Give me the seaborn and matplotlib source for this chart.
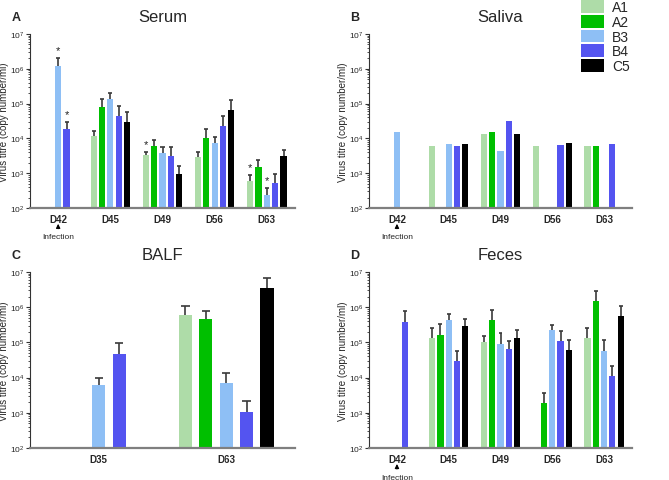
import numpy as np
import pandas as pd
import matplotlib
matplotlib.use("Agg")
import matplotlib.pyplot as plt
from matplotlib.patches import Patch
import seaborn as sns

nan = np.nan
groups = ["A1", "A2", "B3", "B4", "C5"]
colors = ["#aedca8", "#00bf00", "#8ebff5", "#5454f0", "#000000"]
days = ["D42", "D45", "D49", "D56", "D63"]
balf_days = ["D35", "D63"]

# Serum (mean, upper end of error bar)
serum_vals = {"A1": [nan, 1.17e4, 3.3e3, 2.9e3, 5.9e2],
              "A2": [nan, 7.8e4, 6.0e3, 1.0e4, 1.5e3],
              "B3": [1.2e6, 1.36e5, 3.9e3, 7.2e3, 2.3e2],
              "B4": [1.85e4, 4.5e4, 3.2e3, 2.2e4, 5.2e2],
              "C5": [nan, 3.0e4, 9.6e2, 6.7e4, 3.2e3]}
serum_err = {"A1": [nan, 1.65e4, 4.1e3, 4.2e3, 9.0e2],
             "A2": [nan, 1.36e5, 9.0e3, 1.9e4, 2.35e3],
             "B3": [2.1e6, 2.0e5, 5.8e3, 1.1e4, 3.7e2],
             "B4": [3.0e4, 8.6e4, 5.8e3, 4.4e4, 9.4e2],
             "C5": [nan, 5.8e4, 1.6e3, 1.3e5, 4.5e3]}
serum_stars = [("D42", "B3"), ("D42", "B4"), ("D49", "A1"), ("D63", "A1"), ("D63", "B3")]

# Saliva (no error bars)
saliva_vals = {"A1": [nan, 6.0e3, 1.3e4, 6.0e3, 6.0e3],
               "A2": [nan, nan, 1.5e4, nan, 6.0e3],
               "B3": [1.5e4, 6.9e3, 4.3e3, nan, nan],
               "B4": [nan, 6.0e3, 3.1e4, 6.6e3, 7.0e3],
               "C5": [nan, 6.8e3, 1.3e4, 7.4e3, nan]}

# BALF
balf_vals = {"A1": [nan, 6.1e5], "A2": [nan, 4.7e5], "B3": [6.0e3, 6.9e3],
             "B4": [4.7e4, 1.05e3], "C5": [nan, 3.5e6]}
balf_err = {"A1": [nan, 1.05e6], "A2": [nan, 7.6e5], "B3": [9.6e3, 1.35e4],
            "B4": [9.4e4, 2.1e3], "C5": [nan, 6.9e6]}

# Feces
feces_vals = {"A1": [nan, 1.3e5, 1.02e5, nan, 1.35e5],
              "A2": [nan, 1.65e5, 4.3e5, 1.85e3, 1.48e6],
              "B3": [nan, 4.3e5, 8.8e4, 2.2e5, 5.6e4],
              "B4": [3.9e5, 3.0e4, 6.6e4, 1.1e5, 1.1e4],
              "C5": [nan, 2.9e5, 1.3e5, 6.2e4, 5.6e5]}
feces_err = {"A1": [nan, 2.6e5, 1.5e5, nan, 2.6e5],
             "A2": [nan, 3.3e5, 8.2e5, 3.7e3, 2.9e6],
             "B3": [nan, 6.3e5, 1.8e5, 3.2e5, 1.17e5],
             "B4": [7.9e5, 5.8e4, 1.1e5, 2.1e5, 2.2e4],
             "C5": [nan, 4.6e5, 2.2e5, 1.2e5, 1.05e6]}

sns.set_style("white")
plt.rcParams["font.family"] = ["Liberation Sans", "DejaVu Sans"]

W, H = 669, 481
fig = plt.figure(figsize=(W / 100, H / 100), dpi=100)


def add_axes(l, r, t, b):
    return fig.add_axes([l / W, 1 - b / H, (r - l) / W, (b - t) / H])


def panel(ax, xdays, vals, errs, gap, title, letter, infection, stars=()):
    rows = []
    for g in groups:
        for d, v in zip(xdays, vals[g]):
            if not np.isnan(v):
                rows.append({"day": d, "group": g, "value": v})
    df = pd.DataFrame(rows)
    sns.barplot(data=df, x="day", y="value", hue="group", order=xdays,
                hue_order=groups, palette=colors, width=0.8, gap=gap,
                saturation=1, errorbar=None, linewidth=0, legend=False, ax=ax)
    ax.set_yscale("log")
    ax.set_ylim(1e2, 1e7)
    ax.set_xlim(-0.54, len(xdays) - 1 + 0.54)
    slot = 0.8 / len(groups)
    for p in ax.patches:
        h = p.get_height()
        if not h or h <= 0:
            continue
        xc = p.get_x() + p.get_width() / 2
        gi = int(round(xc))
        hi = int(round((xc - gi) / slot)) + 2
        g = groups[hi]
        d = xdays[gi]
        if errs is not None:
            top = errs[g][gi]
            if not np.isnan(top):
                ax.vlines(xc, h, top, color="#3a3a3a", lw=1.2, zorder=3)
                cw = p.get_width() * 0.32
                ax.hlines(top, xc - cw, xc + cw, color="#3a3a3a", lw=1.2, zorder=3)
        else:
            top = h
        if (d, g) in stars:
            ax.text(xc, top * 10 ** 0.22, "*", ha="center", va="center",
                    fontsize=8, color="#222222")
    ax.set_xlabel("")
    ax.set_ylabel("Virus titre (copy number/ml)", fontsize=7, labelpad=1)
    ax.set_title(title, fontsize=12, pad=9)
    for s in ["top", "right"]:
        ax.spines[s].set_visible(False)
    ax.spines["bottom"].set_color("#7f7f7f")
    ax.spines["bottom"].set_linewidth(1.6)
    ax.spines["left"].set_color("#333333")
    ax.spines["left"].set_linewidth(0.8)
    ax.tick_params(axis="x", length=0, pad=4, labelsize=7)
    for lab in ax.get_xticklabels():
        lab.set_fontweight("bold")
    ax.tick_params(axis="y", which="major", length=3, width=0.8, pad=1,
                   labelsize=6, left=True, color="#333333")
    ax.tick_params(axis="y", which="minor", length=1.6, width=0.6,
                   left=True, color="#333333")
    ax.text(-0.07, 1.095, letter, transform=ax.transAxes, fontsize=9,
            fontweight="bold", ha="left", va="center")
    if infection:
        ax.annotate("", xy=(0, -0.075), xytext=(0, -0.135),
                    xycoords=("data", "axes fraction"),
                    textcoords=("data", "axes fraction"),
                    arrowprops=dict(arrowstyle="-|>", color="black", lw=0.8,
                                    mutation_scale=6))
        ax.text(0, -0.165, "Infection", transform=ax.get_xaxis_transform(),
                ha="center", va="center", fontsize=6)


axA = add_axes(30, 295, 35, 209)
axB = add_axes(369, 632, 35, 209)
axC = add_axes(30, 295, 273, 449)
axD = add_axes(369, 632, 273, 449)

panel(axA, days, serum_vals, serum_err, 0.25, "Serum", "A", True, serum_stars)
panel(axB, days, saliva_vals, None, 0.25, "Saliva", "B", True)
panel(axC, balf_days, balf_vals, balf_err, 0.35, "BALF", "C", False)
panel(axD, days, feces_vals, feces_err, 0.25, "Feces", "D", True)

handles = [Patch(facecolor=c, edgecolor="none") for c in colors]
fig.legend(handles, groups, loc="upper left", bbox_to_anchor=(580 / W, 1.0),
           frameon=False, fontsize=10, handlelength=1.6, handleheight=1.0,
           labelspacing=0.05, handletextpad=0.6, borderaxespad=0.0,
           borderpad=0.1)

fig.savefig("out.png", dpi=100, facecolor="white")
